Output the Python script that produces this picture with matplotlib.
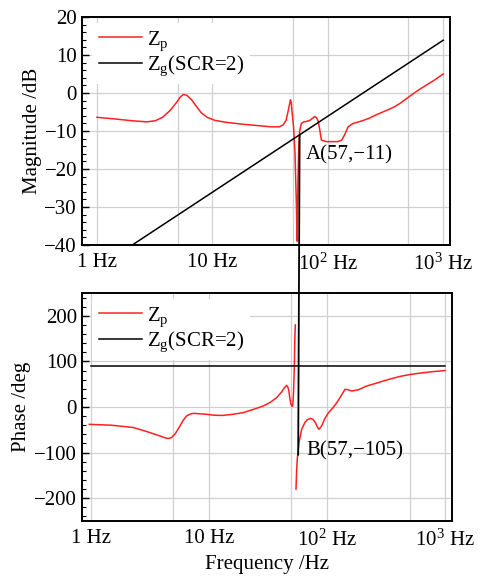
import numpy as np
import matplotlib
matplotlib.use("Agg")
import matplotlib.pyplot as plt
from matplotlib.patches import ConnectionPatch
from matplotlib.ticker import FixedLocator, MultipleLocator, NullFormatter

plt.rcParams['font.family'] = ['Liberation Serif', 'DejaVu Serif']
plt.rcParams['mathtext.fontset'] = 'custom'
plt.rcParams['mathtext.rm'] = 'Liberation Serif'
plt.rcParams['mathtext.it'] = 'Liberation Serif:italic'
plt.rcParams['font.size'] = 15

# ---- data ----
mag_f = [1.0, 1.5, 2.0, 2.7, 3.2, 3.7, 4.3, 4.8, 5.3, 5.6, 6.0, 6.6, 7.3, 8.0, 9.0,
         10.5, 13, 18, 25, 32, 38, 41, 43.5, 45.5, 47.5, 48.3, 49.0, 50.5, 52.0,
         53.5, 54.2, 55.0, 56.0, 57.0, 59.0, 62, 65, 70, 77, 80, 82.6, 85, 88, 97,
         110, 122, 132, 140, 150, 166, 180, 200, 230, 265, 300, 340, 380, 420, 480,
         550, 620, 700, 850, 1000]
mag_db = [-6.4, -6.9, -7.3, -7.6, -7.3, -6.4, -4.6, -2.8, -1.0, -0.4, -0.6, -1.8, -3.6, -5.2, -6.4,
          -7.2, -7.7, -8.2, -8.6, -8.9, -8.9, -8.4, -7.2, -4.5, -1.8, -2.6, -5.0, -9.0, -16.0,
          -30.0, -39.0, -25.0, -14.0, -10.0, -8.0, -7.6, -7.5, -7.2, -6.2, -6.5, -7.5, -9.5, -12.4, -12.8,
          -12.8, -12.8, -12.4, -11.0, -8.9, -8.0, -7.7, -7.3, -6.6, -5.7, -5.0, -4.3, -3.6, -2.8, -1.5,
          -0.2, 0.9, 1.9, 3.5, 5.0]

ph_f = [0.97, 1.5, 2.29, 3.16, 3.8, 4.37, 4.6, 4.83, 5.2, 5.68, 6.1, 6.46, 7.0, 7.4, 8.5,
        9.55, 11, 13, 16, 19.5, 24, 28.8, 33, 37.4, 41, 43.5, 45.5, 46.5, 47.5, 48.5, 49.5,
        50.5, 51.2, 52.0, 52.8, 53.4, 53.9,
        53.95,
        54.6, 55.3, 56.0, 57.0, 58.0, 61, 65, 68, 72, 76, 80, 83, 85.5, 88, 90, 96, 103,
        112, 121, 132, 142, 150, 162, 185, 217, 260, 300, 350, 414, 500, 600, 750, 1000]
ph_deg = [-38, -40, -45, -56, -63, -68.6, -69, -67, -58, -41.6, -28, -19.7, -15, -13.9, -15,
          -16, -18, -18.5, -16, -12.4, -5, 2.2, 10, 20.4, 32, 42, 47.4, 44, 36, 18, 5.8,
          1.5, 2.2, 30, 82, 150, 180,
          np.nan,
          -180, -140, -114, -95, -77, -49, -34, -28, -25, -27, -35, -44, -49, -45, -41.6, -25, -12.4,
          -2, 9.5, 25, 38.7, 38, 35, 38, 46, 52, 57, 62, 67, 71, 74, 77, 80]

zg_f = [1.0, 1000.0]
zg_db = [-11 + 20 * np.log10(1.0 / 57), -11 + 20 * np.log10(1000.0 / 57)]
zg_deg = [90, 90]

xticks = [1, 10, 100, 1000]
xticklabels = ['1 Hz', '10 Hz', '10$^2$ Hz', '10$^3$ Hz']

fig = plt.figure(figsize=(4.82, 5.76), dpi=100)
ax1 = fig.add_axes([0.170, 0.5747, 0.764, 0.3958])
ax2 = fig.add_axes([0.170, 0.0955, 0.768, 0.3958])

gridc = '#d0d0d0'
for ax in (ax1, ax2):
    ax.set_xscale('log')
    ax.xaxis.set_major_locator(FixedLocator(xticks))
    ax.set_xticklabels(xticklabels)
    ax.xaxis.set_minor_locator(FixedLocator([5, 50, 500]))
    ax.xaxis.set_minor_formatter(NullFormatter())
    ax.tick_params(axis='x', which='minor', length=0)
    ax.tick_params(axis='both', which='major', direction='in', length=5, width=1)
    ax.tick_params(axis='y', which='minor', direction='in', length=3, width=0.8)
    ax.tick_params(axis='x', which='major', length=0, pad=6)
    ax.grid(True, which='major', color=gridc, lw=0.9)
    ax.xaxis.grid(True, which='minor', color=gridc, lw=0.9)
    ax.set_axisbelow(True)
    for s in ax.spines.values():
        s.set_linewidth(1.4)

ax1.plot(mag_f, mag_db, color='#ff2020', lw=1.1, label='Z$_\\mathrm{p}$', zorder=3)
ax1.plot(zg_f, zg_db, color='black', lw=1.1, label='Z$_\\mathrm{g}$(SCR=2)', zorder=3)
ax1.set_xlim(0.74, 1150)
ax1.set_ylim(-40, 20)
ax1.yaxis.set_major_locator(MultipleLocator(10))
ax1.yaxis.set_minor_locator(MultipleLocator(2))
ax1.set_ylabel('Magnitude /dB', labelpad=2)
ax1.text(64.5, -16.3, 'A(57,\u221211)', ha='left', va='center')
leg1 = ax1.legend(loc='upper left', bbox_to_anchor=(0.0, 1.02), frameon=True, fancybox=False,
                  edgecolor='none', framealpha=1, handlelength=2.1, handletextpad=0.2,
                  labelspacing=0.05, borderpad=0.3)

ax2.plot(ph_f, ph_deg, color='#ff2020', lw=1.1, label='Z$_\\mathrm{p}$', zorder=3)
ax2.plot(zg_f, zg_deg, color='black', lw=1.1, label='Z$_\\mathrm{g}$(SCR=2)', zorder=3)
ax2.set_xlim(0.84, 1147)
ax2.set_ylim(-250, 250)
ax2.yaxis.set_major_locator(MultipleLocator(100))
ax2.yaxis.set_minor_locator(MultipleLocator(20))
ax2.set_ylabel('Phase /deg', labelpad=2)
ax2.set_xlabel('Frequency /Hz', labelpad=3)
ax2.text(66.4, -97, 'B(57,\u2212105)', ha='left', va='center')
leg2 = ax2.legend(loc='upper left', bbox_to_anchor=(0.0, 1.02), frameon=True, fancybox=False,
                  edgecolor='none', framealpha=1, handlelength=2.1, handletextpad=0.2,
                  labelspacing=0.05, borderpad=0.3)

con = ConnectionPatch(xyA=(57, -11), coordsA=ax1.transData,
                      xyB=(57, -105), coordsB=ax2.transData,
                      color='black', lw=1.3, zorder=5)
fig.add_artist(con)

fig.savefig('out.png', dpi=100)
